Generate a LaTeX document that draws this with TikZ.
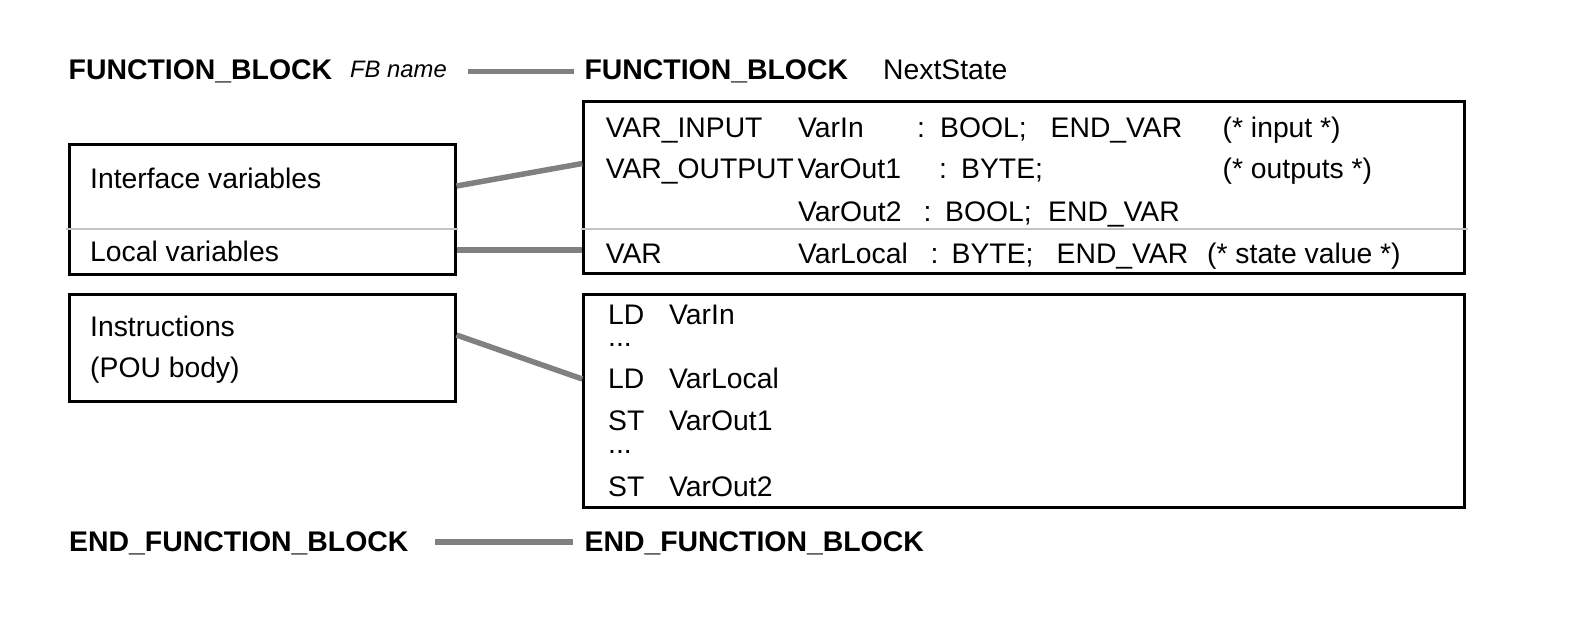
\documentclass[tikz,border=0pt]{standalone}
\usepackage{fontspec}
\setmainfont{Liberation Sans}
\definecolor{linkgray}{HTML}{808080}
\definecolor{splitgray}{HTML}{C4C4C4}
\begin{document}
\begin{tikzpicture}[x=1pt,y=-1pt,
  box/.style={draw=black,line width=3pt,inner sep=0pt,anchor=north west},
  link/.style={draw=linkgray,line width=5.5pt},
  split/.style={draw=splitgray,line width=2pt},
  txt/.style={anchor=base west,inner sep=0pt,font=\fontsize{28.3}{34}\selectfont},
  kw/.style={txt,font=\fontsize{28.4}{34}\selectfont\bfseries},
  ital/.style={txt,font=\fontsize{23.8}{28}\selectfont\itshape},
]
% page frame
\path[use as bounding box] (0,0) rectangle (1588,630);

% declaration header
\node[kw] (fbkw) at (68.5,79.5) {FUNCTION\_BLOCK};
\node[ital] (fbname) at (350,77) {FB name};
\node[kw] (fbkw2) at (584.4,79.5) {FUNCTION\_BLOCK};
\node[txt] (fbid) at (883,79.5) {NextState};
\coordinate (hdL) at (468,71.5);
\coordinate (hdR) at (574,71.5);
\draw[link] (hdL) -- (hdR);

% left-hand boxes
\node[box,minimum width=385.6pt,minimum height=130pt] (varbox) at (67.9,142.7) {};
\node[box,minimum width=385.6pt,minimum height=106.7pt] (insbox) at (67.9,293.3) {};
\draw[split] ([xshift=-1.5pt]varbox.west |- 0,228.7) -- ([xshift=1.5pt]varbox.east |- 0,228.7);
\node[txt] (iftxt) at (90,188) {Interface variables};
\node[txt] (loctxt) at (90,261) {Local variables};
\node[txt] (instxt) at (90,336) {Instructions};
\node[txt] (poutxt) at (90,377.5) {(POU body)};

% right-hand boxes
\node[box,minimum width=880.7pt,minimum height=172.5pt] (declbox) at (582.3,99.5) {};
\node[box,minimum width=880.7pt,minimum height=213pt] (bodybox) at (582.3,293) {};
\draw[split] ([xshift=-1.5pt]declbox.west |- 0,228.7) -- ([xshift=1.5pt]declbox.east |- 0,228.7);

% declaration part
\node[txt] (r1a) at (605.6,137) {VAR\_INPUT};
\node[txt] (r1b) at (798,137) {VarIn};
\node[txt] (r1c) at (917,137) {:};
\node[txt] (r1d) at (940,137) {BOOL;};
\node[txt] (r1e) at (1050.5,137) {END\_VAR};
\node[txt] (r1f) at (1222.5,137) {(* input *)};

\node[txt] (r2a) at (605.6,178) {VAR\_OUTPUT};
\node[txt] (r2b) at (797.5,178) {VarOut1};
\node[txt] (r2c) at (939,178) {:};
\node[txt] (r2d) at (961,178) {BYTE;};
\node[txt] (r2f) at (1222.5,178) {(* outputs *)};

\node[txt] (r3b) at (798,221) {VarOut2};
\node[txt] (r3c) at (923.5,221) {:};
\node[txt] (r3d) at (945,221) {BOOL;};
\node[txt] (r3e) at (1048,221) {END\_VAR};

\node[txt] (r4a) at (605.6,263.3) {VAR};
\node[txt] (r4b) at (798,263.3) {VarLocal};
\node[txt] (r4c) at (930.5,263.3) {:};
\node[txt] (r4d) at (951.5,263.3) {BYTE;};
\node[txt] (r4e) at (1056.5,263.3) {END\_VAR};
\node[txt] (r4f) at (1207,263.3) {(* state value *)};

% instruction part
\node[txt] (b1a) at (608,324) {LD};
\node[txt] (b1b) at (669,324) {VarIn};
\node[txt] (b2a) at (608,346.5) {...};
\node[txt] (b3a) at (608,388.3) {LD};
\node[txt] (b3b) at (669,388.3) {VarLocal};
\node[txt] (b4a) at (608,430) {ST};
\node[txt] (b4b) at (669,430) {VarOut1};
\node[txt] (b5a) at (608,453) {...};
\node[txt] (b6a) at (608,496.3) {ST};
\node[txt] (b6b) at (669,496.3) {VarOut2};

% connectors between the two columns
\coordinate (ifL) at (varbox.east |- 0,186);
\coordinate (ifR) at (declbox.west |- 0,163.5);
\coordinate (locL) at (varbox.east |- 0,250);
\coordinate (locR) at (declbox.west |- 0,250);
\coordinate (insL) at (insbox.east |- 0,335);
\coordinate (insR) at (bodybox.west |- 0,379);
\draw[link] (ifL) -- (ifR);
\draw[link] (locL) -- (locR);
\draw[link] (insL) -- (insR);

% closing keyword
\node[kw] (endkw) at (69,551.5) {END\_FUNCTION\_BLOCK};
\node[kw] (endkw2) at (584.4,551.5) {END\_FUNCTION\_BLOCK};
\coordinate (ftL) at (435,541.8);
\coordinate (ftR) at (573,541.8);
\draw[link] (ftL) -- (ftR);
\end{tikzpicture}
\end{document}
